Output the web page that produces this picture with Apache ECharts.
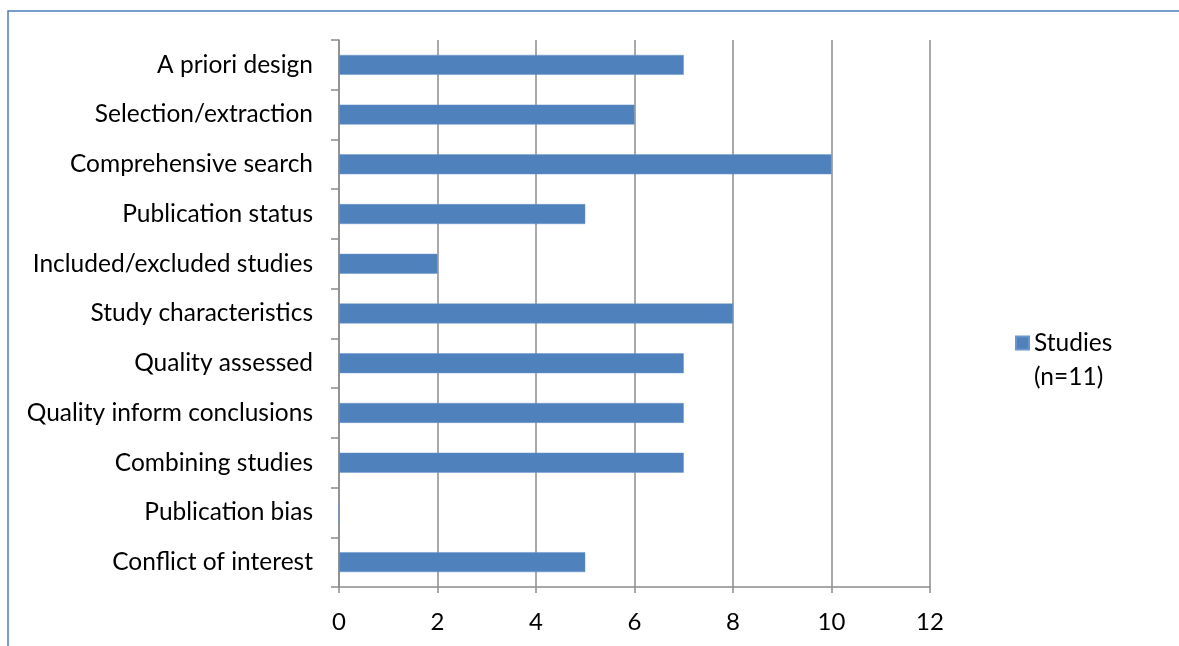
<!DOCTYPE html>
<html>
<head>
<meta charset="utf-8">
<script src="https://cdn.jsdelivr.net/npm/echarts@6/dist/echarts.min.js"></script>
<style>
  html, body { margin: 0; padding: 0; background: #fff; }
  #chart { width: 1179px; height: 646px; }
</style>
</head>
<body>
<div id="chart"></div>
<script>
// Reporting items checked across the included reviews
const categories = [
  'A priori design',
  'Selection/extraction',
  'Comprehensive search',
  'Publication status',
  'Included/excluded studies',
  'Study characteristics',
  'Quality assessed',
  'Quality inform conclusions',
  'Combining studies',
  'Publication bias',
  'Conflict of interest'
];
const studies = [7, 6, 10, 5, 2, 8, 7, 7, 7, 0, 5];
const seriesName = 'Studies\n(n=11)';
const xTicks = { min: 0, max: 12, interval: 2 };

const FONT = 'Lato';
const GRID_GRAY = '#8c8c8c';
const BAR_BLUE = '#4f81bd';

const chart = echarts.init(document.getElementById('chart'), null, { renderer: 'canvas' });

chart.setOption({
  animation: false,
  backgroundColor: '#ffffff',
  textStyle: { fontFamily: FONT },
  grid: { left: 339, right: 249, top: 40, bottom: 59, containLabel: false },
  graphic: [{
    type: 'rect',
    shape: { x: 8, y: 11, width: 1400, height: 900 },
    style: { fill: 'none', stroke: '#4a7ebb', lineWidth: 1.5 },
    silent: true
  }],
  legend: {
    show: true,
    orient: 'vertical',
    left: 1015,
    top: 292,
    padding: 0,
    itemWidth: 13,
    itemHeight: 13,
    icon: 'rect',
    // leading blank line keeps the swatch level with the first line of the name
    formatter: name => '\n' + name,
    textStyle: {
      fontFamily: FONT,
      fontSize: 24.5,
      color: '#000',
      lineHeight: 34
    }
  },
  xAxis: {
    type: 'value',
    min: xTicks.min,
    max: xTicks.max,
    interval: xTicks.interval,
    axisLine: { show: true, lineStyle: { color: GRID_GRAY, width: 1.5 } },
    axisTick: { show: true, length: 6, lineStyle: { color: GRID_GRAY, width: 1.5 } },
    axisLabel: { color: '#000', fontFamily: FONT, fontSize: 24, margin: 23 },
    splitLine: { show: true, lineStyle: { color: GRID_GRAY, width: 1.5 } }
  },
  yAxis: {
    type: 'category',
    data: categories,
    inverse: true,
    boundaryGap: true,
    axisLine: { show: true, lineStyle: { color: GRID_GRAY, width: 1.5 } },
    axisTick: { show: true, length: 8, lineStyle: { color: GRID_GRAY, width: 1.5 } },
    axisLabel: { color: '#000', fontFamily: FONT, fontSize: 24.5, margin: 26 },
    splitLine: { show: false }
  },
  series: [{
    name: seriesName,
    type: 'bar',
    data: studies,
    barWidth: '40%',
    itemStyle: { color: BAR_BLUE, borderColor: '#6a96cc', borderWidth: 0.5 }
  }]
});
</script>
</body>
</html>
